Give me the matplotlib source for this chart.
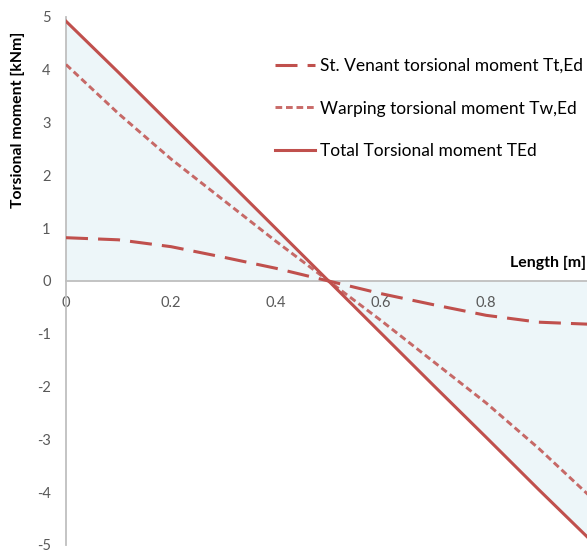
import matplotlib
matplotlib.use("Agg")
import matplotlib.pyplot as plt
import numpy as np

plt.rcParams['font.family'] = ['Lato', 'DejaVu Sans']
plt.rcParams['axes.unicode_minus'] = False

length = [0.0, 0.1, 0.2, 0.3, 0.4, 0.5, 0.6, 0.7, 0.8, 0.9, 1.0]
st_venant = [0.82, 0.78, 0.65, 0.45, 0.24, 0.0, -0.24, -0.45, -0.65, -0.78, -0.82]
warping = [4.10, 3.17, 2.31, 1.53, 0.75, 0.0, -0.75, -1.53, -2.31, -3.17, -4.10]
total = [4.92, 3.95, 2.96, 1.98, 0.99, 0.0, -0.99, -1.98, -2.96, -3.95, -4.92]

x_ticks = [0, 0.2, 0.4, 0.6, 0.8]
x_tick_labels = ["0", "0.2", "0.4", "0.6", "0.8"]
y_ticks = [-5, -4, -3, -2, -1, 0, 1, 2, 3, 4, 5]

red = "#C0504D"
gray = "#BFBFBF"
label_gray = "#595959"

W, H = 587, 551
fig = plt.figure(figsize=(W / 100, H / 100), dpi=100)
ax = fig.add_axes([66 / W, (H - 545) / H, (587 - 66) / W, 528 / H])

ax.fill_between(length, total, 0, color="#EDF6F9", lw=0, zorder=1)
l1, = ax.plot(length, st_venant, color=red, lw=2.2, dashes=(7.2, 3.3),
              label="St. Venant torsional moment Tt,Ed", zorder=3)
l2, = ax.plot(length, warping, color=red, lw=2.1, dashes=(2.3, 1.3), alpha=0.85,
              label="Warping torsional moment Tw,Ed", zorder=3)
l3, = ax.plot(length, total, color=red, lw=2.2, label="Total Torsional moment TEd", zorder=3)

ax.set_xlim(0, 0.992)
ax.set_ylim(-5, 5)

for s in ["top", "right"]:
    ax.spines[s].set_visible(False)
ax.spines["bottom"].set_position(("data", 0))
ax.spines["bottom"].set_color(gray)
ax.spines["left"].set_color(gray)
ax.spines["bottom"].set_linewidth(1.3)
ax.spines["left"].set_linewidth(1.3)

ax.set_xticks(x_ticks)
ax.set_xticklabels(x_tick_labels)
ax.set_yticks(y_ticks)
ax.tick_params(axis="both", length=0, labelsize=10.5, labelcolor=label_gray)
ax.tick_params(axis="x", pad=11)
ax.tick_params(axis="y", pad=11)

fig.text(18 / W, 1 - 120 / H, "Torsional moment [kNm]", rotation=90, fontsize=11.4,
         fontweight="bold", ha="center", va="center")
fig.text(586 / W, 1 - 263 / H, "Length [m]", fontsize=11.4, fontweight="bold",
         ha="right", va="center")

leg = fig.legend(handles=[l1, l2, l3], loc="upper left",
                 bbox_to_anchor=(259 / W, 1 - 42 / H), frameon=False,
                 fontsize=12.5, handlelength=2.3, handletextpad=0.3,
                 labelspacing=1.55)

fig.savefig("out.png", dpi=100)
